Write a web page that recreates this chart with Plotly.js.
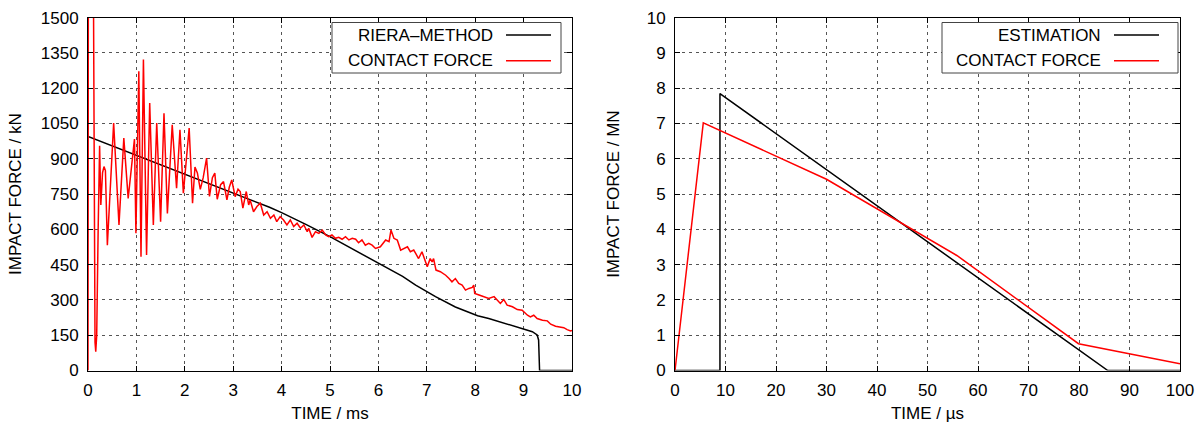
<!DOCTYPE html>
<html><head><meta charset="utf-8">
<script src="https://cdn.plot.ly/plotly-3.0.1.min.js"></script>
<style>html,body{margin:0;padding:0;background:#fff}#chart{width:1203px;height:423px}</style>
</head><body><div id="chart"></div>
<script>
// Left chart: impact force in kN vs time in ms
const rieraTime  = [0, 0.5, 1, 1.5, 2, 2.5, 3, 3.5, 3.75, 4, 4.25, 4.5, 5, 5.5, 6, 6.5, 6.77, 7.18, 7.59, 7.85, 8.05, 8.28, 8.69, 8.97, 9.18, 9.28, 9.31, 9.33, 10];
const rieraForce = [995, 955, 915, 875, 835, 795, 755, 715, 694, 671, 647, 621, 569, 512, 455, 400, 363, 314, 270, 248, 233, 221, 197, 179, 165, 151, 130, 0, 0];

const contactTime = [0, 0.01, 0.10, 0.11, 0.125, 0.145, 0.16, 0.18, 0.21, 0.24, 0.265, 0.30, 0.33, 0.36, 0.40, 0.47, 0.53, 0.64, 0.74, 0.83, 0.90, 0.96, 0.99,
  1.05, 1.095, 1.145, 1.21, 1.275, 1.35, 1.42, 1.50, 1.57, 1.64, 1.74, 1.83, 1.90, 1.97, 2.09, 2.16, 2.21, 2.26, 2.32, 2.38, 2.45, 2.51, 2.57, 2.62, 2.67,
  2.74, 2.80, 2.87, 2.92, 2.97, 3.04, 3.10, 3.145, 3.20, 3.27, 3.32, 3.35, 3.42, 3.49, 3.56, 3.63, 3.70, 3.77, 3.84, 3.90, 3.97, 4.04, 4.11, 4.18, 4.25,
  4.32, 4.39, 4.46, 4.53, 4.56, 4.63, 4.70, 4.77, 4.84, 4.91, 4.97, 5.04, 5.11, 5.18, 5.25, 5.32, 5.39, 5.46, 5.53, 5.59, 5.66, 5.73, 5.80, 5.87, 5.94,
  6.04, 6.15, 6.22, 6.26, 6.32, 6.39, 6.46, 6.53, 6.60, 6.66, 6.73, 6.77, 6.83, 6.90, 6.94, 7.01, 7.07, 7.11, 7.14, 7.19, 7.28, 7.39, 7.46, 7.52, 7.59,
  7.66, 7.73, 7.80, 7.87, 7.94, 7.97, 7.99, 8.08, 8.18, 8.28, 8.39, 8.45, 8.52, 8.59, 8.66, 8.77, 8.87, 8.97, 9.08, 9.14, 9.21, 9.28, 9.39, 9.49, 9.56,
  9.66, 9.77, 9.83, 9.90, 9.97, 10.0];
const contactForce = [0, 2200, 2200, 1600, 400, 120, 80, 150, 600, 955, 704, 840, 867, 850, 533, 820, 1052, 619, 988, 732, 862, 984, 584,
  1272, 484, 1322, 491, 1137, 619, 1052, 633, 1094, 668, 1045, 775, 1023, 754, 1031, 711, 865, 840, 770, 820, 903, 740, 820, 839, 728,
  790, 803, 725, 780, 810, 739, 771, 761, 690, 761, 704, 725, 675, 697, 711, 661, 675, 647, 661, 633, 654, 640, 619, 640, 612,
  626, 605, 619, 590, 605, 566, 590, 583, 597, 576, 569, 576, 562, 566, 558, 569, 555, 562, 558, 543, 555, 533, 541, 533, 519,
  526, 555, 548, 597, 562, 555, 512, 519, 526, 505, 512, 498, 476, 505, 483, 441, 476, 462, 476, 427, 420, 405, 391, 377, 391,
  370, 363, 342, 349, 353, 363, 328, 321, 314, 306, 314, 299, 285, 302, 278, 271, 259, 256, 235, 228, 235, 221, 214, 211, 197,
  188, 185, 182, 174, 168, 170];

// Right chart: impact force in MN vs time in microseconds
const estTime  = [0, 8.9, 8.9, 85.7, 100];
const estForce = [0, 0, 7.85, 0, 0];
const contact2Time  = [0, 5.6, 30, 41.2, 55.8, 79.9, 100];
const contact2Force = [0, 7.02, 5.42, 4.49, 3.26, 0.76, 0.19];

const leftLegend  = ['RIERA\u2013METHOD', 'CONTACT FORCE'];
const rightLegend = ['ESTIMATION', 'CONTACT FORCE'];

const W = 1203, H = 423;
const px = x => x / W, py = y => 1 - y / H;
const FONT = {family: 'Liberation Sans, Arial, sans-serif', size: 17, color: '#000'};

const traces = [
  {x: rieraTime, y: rieraForce, xaxis: 'x', yaxis: 'y', mode: 'lines', name: leftLegend[0], line: {color: '#000', width: 1.5}},
  {x: contactTime, y: contactForce, xaxis: 'x', yaxis: 'y', mode: 'lines', name: leftLegend[1], line: {color: '#ff0000', width: 1.5}},
  {x: estTime, y: estForce, xaxis: 'x2', yaxis: 'y2', mode: 'lines', name: rightLegend[0], line: {color: '#000', width: 1.5}},
  {x: contact2Time, y: contact2Force, xaxis: 'x2', yaxis: 'y2', mode: 'lines', name: rightLegend[1], line: {color: '#ff0000', width: 1.5}}
];

function axis(extra) {
  return Object.assign({
    showline: true, mirror: 'ticks', linecolor: '#000', linewidth: 1,
    ticks: 'inside', ticklen: 5, tickcolor: '#000',
    showgrid: true, gridcolor: '#555', griddash: '3px,4px', gridwidth: 1,
    zeroline: false, tickfont: FONT, fixedrange: true
  }, extra);
}

const yDom = [1 - 370.5 / H, 1 - 17.7 / H];
const layout = {
  width: W, height: H, showlegend: false,
  margin: {l: 0, r: 0, t: 0, b: 0},
  paper_bgcolor: '#fff', plot_bgcolor: '#fff',
  font: FONT,
  xaxis: axis({domain: [px(88), px(572)], range: [0, 10], dtick: 1, anchor: 'y', ticklabelstandoff: 4,
    title: {text: 'TIME / ms', font: FONT, standoff: 8}}),
  yaxis: axis({domain: yDom, range: [0, 1500], dtick: 150, anchor: 'x', ticklabelstandoff: 5,
    title: {text: 'IMPACT FORCE / kN', font: FONT, standoff: 14}}),
  xaxis2: axis({domain: [px(675), px(1180)], range: [0, 100], dtick: 10, anchor: 'y2', ticklabelstandoff: 4,
    title: {text: 'TIME / \u00b5s', font: FONT, standoff: 8}}),
  yaxis2: axis({domain: yDom, range: [0, 10], dtick: 1, anchor: 'x2', ticklabelstandoff: 5,
    title: {text: 'IMPACT FORCE / MN', font: FONT, standoff: 22}}),
  shapes: [], annotations: []
};

function addLegend(box, textRight, lineX0, lineX1, rowsY, labels, colors) {
  layout.shapes.push({type: 'rect', xref: 'paper', yref: 'paper',
    x0: px(box[0]), x1: px(box[1]), y0: py(box[2]), y1: py(box[3]),
    line: {color: '#444', width: 1}, fillcolor: '#fff', layer: 'above'});
  labels.forEach((lab, i) => {
    layout.annotations.push({xref: 'paper', yref: 'paper', x: px(textRight), y: py(rowsY[i]),
      xanchor: 'right', yanchor: 'middle', text: lab, showarrow: false, font: FONT});
    layout.shapes.push({type: 'line', xref: 'paper', yref: 'paper',
      x0: px(lineX0), x1: px(lineX1), y0: py(rowsY[i]), y1: py(rowsY[i]),
      line: {color: colors[i], width: 1.5}, layer: 'above'});
  });
}
addLegend([332, 561, 22.5, 73], 495, 506, 551, [35, 60.7], leftLegend, ['#000', '#ff0000']);
addLegend([942, 1178, 22.5, 73], 1103, 1114, 1159, [35, 60.7], rightLegend, ['#000', '#ff0000']);

Plotly.newPlot('chart', traces, layout, {staticPlot: true, displayModeBar: false});
</script>
</body></html>
